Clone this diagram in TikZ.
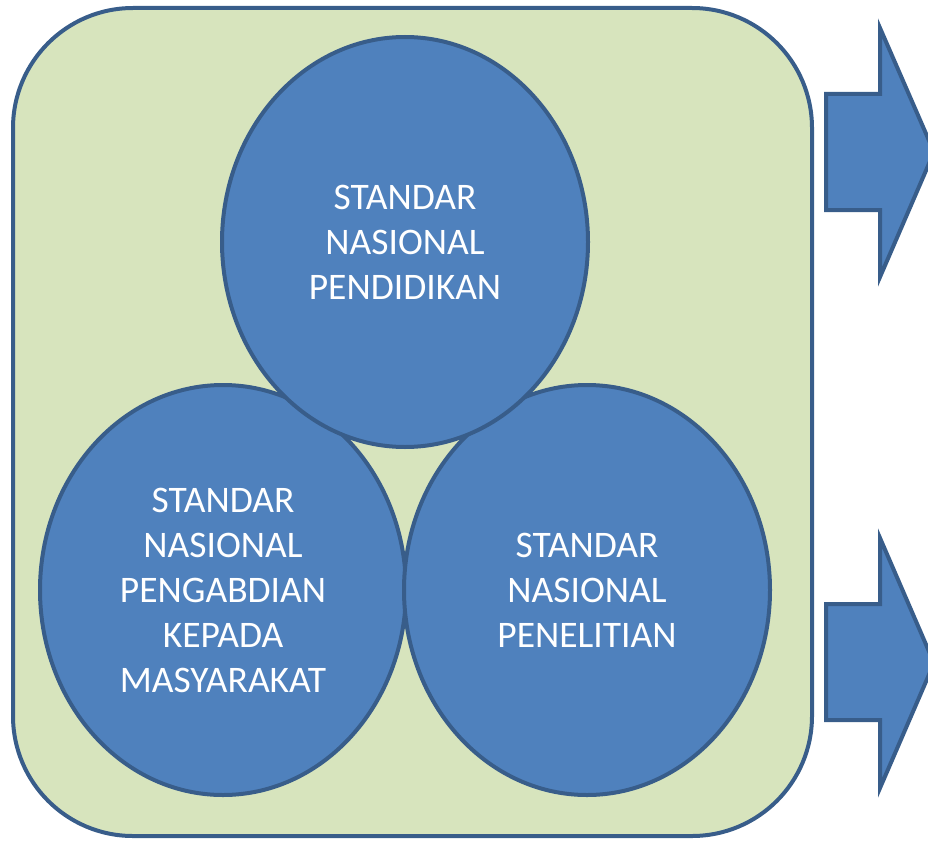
\documentclass[tikz,border=0pt]{standalone}
\usepackage{fontspec}
\setmainfont{Carlito}
\usetikzlibrary{shapes.geometric}
\definecolor{cblue}{HTML}{4F81BD}
\definecolor{cline}{HTML}{385D8A}
\definecolor{cgreen}{HTML}{D7E4BD}
\tikzset{
  circ/.style={ellipse, draw=cline, fill=cblue, line width=4pt,
    minimum width=366pt, minimum height=410pt, inner sep=0pt,
    text=white, align=center, font=\fontsize{37.5}{45}\selectfont},
  arr/.style={draw=cline, fill=cblue, line width=4pt, line join=miter},
  panel/.style={draw=cline, fill=cgreen, line width=4pt, rounded corners=120pt}
}
\begin{document}
\begin{tikzpicture}[x=1pt,y=-1pt]
\useasboundingbox (0,0) rectangle (928,840);
\begin{scope}
\clip (0,0) rectangle (928,840);
\draw[panel] (13,8) rectangle (812,836);
\node[circ] (bl) at (223,590) {STANDAR\\NASIONAL\\PENGABDIAN\\KEPADA\\MASYARAKAT};
\node[circ] (br) at (587,590) {STANDAR\\NASIONAL\\PENELITIAN};
\node[circ] (top) at (405,242) {STANDAR\\NASIONAL\\PENDIDIKAN};
\draw[arr] (826,94) -- (880,94) -- (880,28) -- (934,152) -- (880,277) -- (880,210) -- (826,210) -- cycle;
\draw[arr] (826,604) -- (880,604) -- (880,538) -- (934,663) -- (880,788) -- (880,720) -- (826,720) -- cycle;
\end{scope}
\end{tikzpicture}
\end{document}
